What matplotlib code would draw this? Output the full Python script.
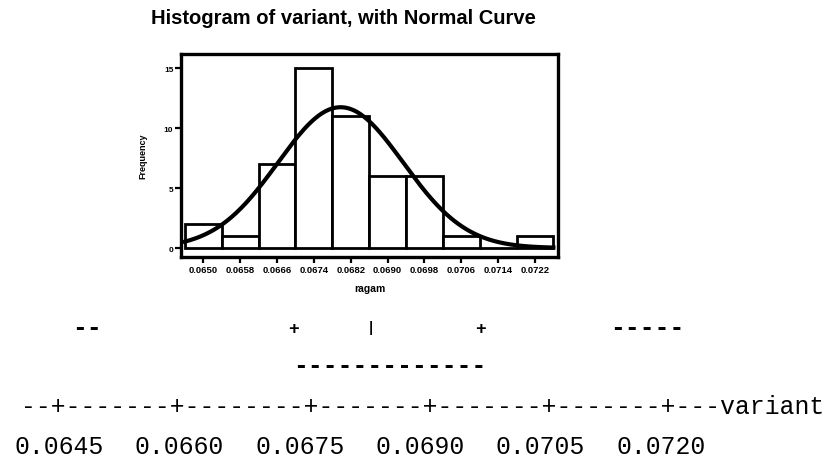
import numpy as np
import matplotlib
matplotlib.use("Agg")
import matplotlib.pyplot as plt

# histogram of variant (bin centres and counts)
bin_centers = [0.0650, 0.0658, 0.0666, 0.0674, 0.0682, 0.0690, 0.0698, 0.0706, 0.0714, 0.0722]
counts = [2, 1, 7, 15, 11, 6, 6, 1, 0, 1]
bin_width = 0.0008
tick_labels = ["0.0650", "0.0658", "0.0666", "0.0674", "0.0682",
               "0.0690", "0.0698", "0.0706", "0.0714", "0.0722"]

# normal curve parameters
curve_mean = 0.06798
curve_sd = 0.00136
n_obs = 50

# text box plot below (values on the variant scale)
axis_values = [0.0645, 0.0660, 0.0675, 0.0690, 0.0705, 0.0720]
axis_labels = ["0.0645", "0.0660", "0.0675", "0.0690", "0.0705", "0.0720"]
whisker_lo = 0.06466
box_q1 = 0.06742
box_median = 0.06839
box_q3 = 0.06975
whisker_hi = 0.07137

fig = plt.figure(figsize=(8.26, 4.64), dpi=100)

ax = fig.add_axes([181/826, 1 - 258/464, 377/826, 203/464])
ax.bar(bin_centers, counts, width=bin_width, color="white",
       edgecolor="black", linewidth=2.0, zorder=2)
xs = np.linspace(bin_centers[0] - bin_width/2, bin_centers[-1] + bin_width/2, 300)
ys = n_obs * bin_width / (curve_sd * np.sqrt(2*np.pi)) * np.exp(-0.5*((xs - curve_mean)/curve_sd)**2)
ax.plot(xs, ys, color="black", linewidth=3.0, zorder=3)
ax.set_xlim(0.064516, 0.0727)
ax.set_ylim(-0.75, 16.17)
ax.set_xticks(bin_centers)
ax.set_xticklabels(tick_labels, fontsize=6.8, fontweight="bold", family="Liberation Sans")
ax.set_yticks([0, 5, 10, 15])
ax.set_yticklabels(["0", "5", "10", "15"], fontsize=6, fontweight="bold", family="Liberation Sans")
ax.tick_params(length=4, width=1.6, pad=1.5)
for s in ax.spines.values():
    s.set_linewidth(2.4)
ax.set_xlabel("ragam", fontsize=7.5, fontweight="bold", family="Liberation Sans", labelpad=7)
ax.set_ylabel("Frequency", fontsize=6.5, fontweight="bold", family="Liberation Sans", labelpad=12)

fig.text(343/826, 1 - 18/464, "Histogram of variant, with Normal Curve",
         ha="center", va="center", fontsize=14.5, fontweight="bold", family="Liberation Sans")

# text box plot, drawn on a variant scale
bx = fig.add_axes([0, 0, 1, 310/464])
px_per_unit = 120.4 / 0.0015
bx.set_xlim(0.0645 - 59/px_per_unit, 0.0645 + (826 - 59)/px_per_unit)
bx.set_ylim(0, 310)
bx.axis("off")

mono = dict(family="Liberation Mono", fontsize=17.8)
y1, y2, y3, y4 = 464 - 328, 464 - 366, 464 - 407, 464 - 447
bx.text(whisker_lo, y1, "--", ha="left", va="center", fontweight="bold", **mono)
bx.text(box_q1, y1 - 2, "+", ha="center", va="center", family="Liberation Mono", fontsize=13, fontweight="bold")
bx.text(box_median, y1, "|", ha="center", va="center", family="Liberation Mono", fontsize=10, fontweight="bold")
bx.text(box_q3, y1 - 2, "+", ha="center", va="center", family="Liberation Mono", fontsize=13, fontweight="bold")
bx.text(whisker_hi, y1, "-----", ha="left", va="center", fontweight="bold", **mono)
bx.text(box_q1, y2, "-" * 13, ha="left", va="center", fontweight="bold", **mono)

axis_row = "--+-------+--------+-------+-------+-------+---variant"
bx.text(0.0645 - 38/px_per_unit, y3, axis_row, ha="left", va="center", **mono)
for v, lab in zip(axis_values, axis_labels):
    bx.text(v, y4, lab, ha="center", va="center", **mono)

fig.savefig("out.png", dpi=100)
